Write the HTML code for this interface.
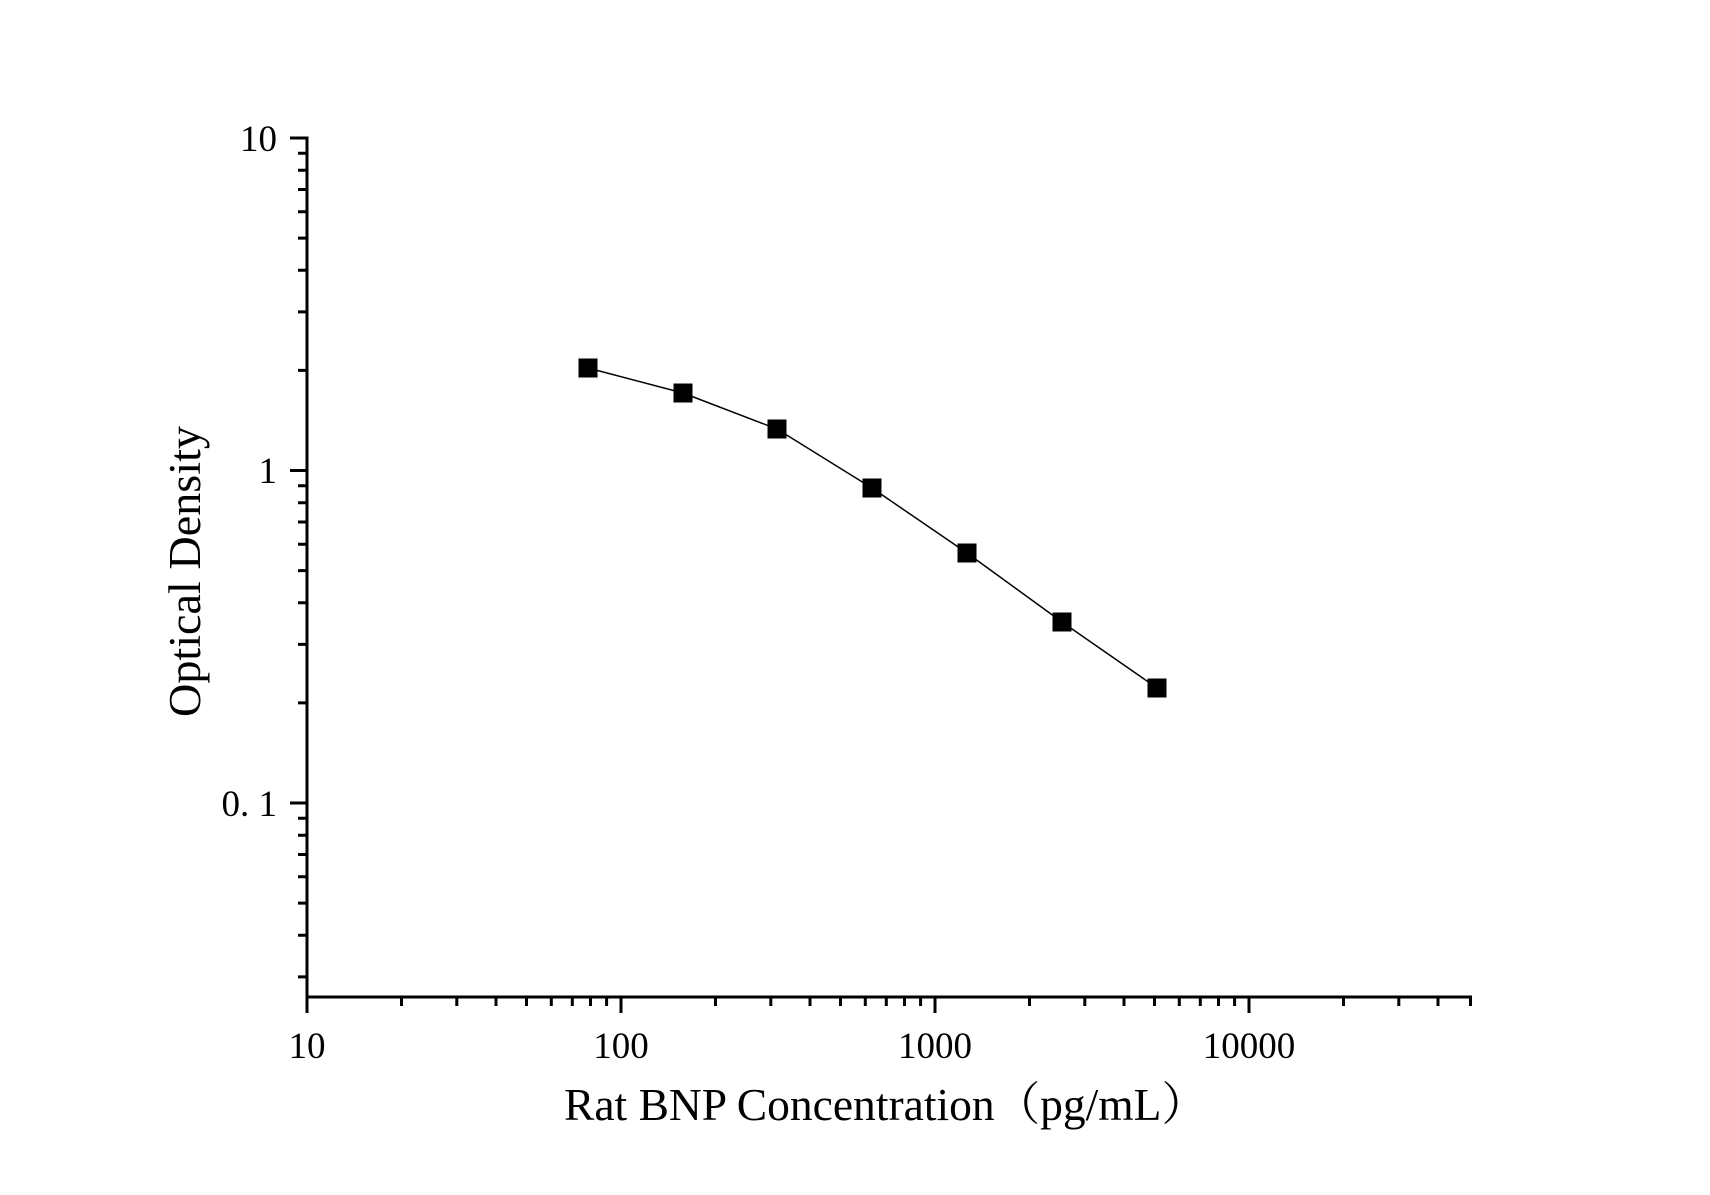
<!DOCTYPE html>
<html><head><meta charset="utf-8"><style>html,body{margin:0;padding:0;background:#fff}svg{display:block}</style></head>
<body>
<svg width="1710" height="1195" viewBox="0 0 1710 1195" xmlns="http://www.w3.org/2000/svg">
<rect width="1710" height="1195" fill="#fff"/>
<g stroke="#000" stroke-width="3" fill="none" stroke-linecap="butt">
<path d="M307 136.5 V998.5 M305.5 997 H1472"/>
<path d="M290 138 H307 M290 470.5 H307 M290 803 H307"/>
<path d="M298 370.4H307M298 311.9H307M298 270.3H307M298 238.1H307M298 211.8H307M298 189.5H307M298 170.3H307M298 153.2H307
M298 702.9H307M298 644.4H307M298 602.8H307M298 570.6H307M298 544.3H307M298 522H307M298 502.8H307M298 485.7H307
M298 818.2H307M298 835.2H307M298 854.5H307M298 876.7H307M298 903.1H307M298 935.3H307M298 976.9H307"/>
<path d="M307 997V1013M621 997V1013M935 997V1013M1249 997V1013"/>
<path d="M401.5 997v9M456.8 997v9M496 997v9M526.5 997v9M551.3 997v9M572.3 997v9M590.5 997v9M606.6 997v9
M715.5 997v9M770.8 997v9M810 997v9M840.5 997v9M865.3 997v9M886.3 997v9M904.5 997v9M920.6 997v9
M1029.5 997v9M1084.8 997v9M1124 997v9M1154.5 997v9M1179.3 997v9M1200.3 997v9M1218.5 997v9M1234.6 997v9
M1343.5 997v9M1398.8 997v9M1438 997v9M1470.5 997v9"/>
</g>
<polyline fill="none" stroke="#000" stroke-width="1.5" points="588,368 683,393 777,429 872,488 967,553 1062,622 1157,688"/>
<g fill="#000">
<rect x="578.5" y="358.5" width="19" height="19"/>
<rect x="673.5" y="383.5" width="19" height="19"/>
<rect x="767.5" y="419.5" width="19" height="19"/>
<rect x="862.5" y="478.5" width="19" height="19"/>
<rect x="957.5" y="543.5" width="19" height="19"/>
<rect x="1052.5" y="612.5" width="19" height="19"/>
<rect x="1147.5" y="678.5" width="19" height="19"/>
</g>
<g font-family="Liberation Serif, serif" font-size="37" fill="#000">
<text x="277" y="151" text-anchor="end">10</text>
<text x="277" y="483" text-anchor="end">1</text>
<text x="277" y="816" text-anchor="end">0. 1</text>
<text x="307" y="1058" text-anchor="middle">10</text>
<text x="621" y="1058" text-anchor="middle">100</text>
<text x="935" y="1058" text-anchor="middle">1000</text>
<text x="1249" y="1058" text-anchor="middle">10000</text>
</g>
<text x="564" y="1120" font-family="Liberation Serif, 'Noto Serif CJK SC', serif" font-size="46" textLength="643" lengthAdjust="spacingAndGlyphs">Rat BNP Concentration（pg/mL）</text>
<text transform="translate(200,717) rotate(-90)" font-family="Liberation Serif, serif" font-size="45" textLength="291" lengthAdjust="spacingAndGlyphs">Optical Density</text>
</svg>
</body></html>
